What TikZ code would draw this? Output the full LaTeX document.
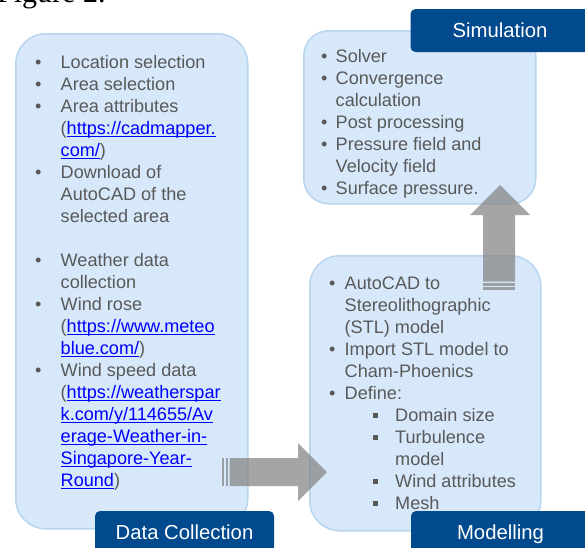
\documentclass[tikz,border=0pt]{standalone}
\usepackage{fontspec}
\setmainfont{Liberation Sans}
\newfontfamily\capfont{Liberation Serif}
\usepackage{tikz}
\usetikzlibrary{positioning}
\definecolor{boxfill}{RGB}{214,232,250}
\definecolor{boxline}{RGB}{184,213,240}
\definecolor{tabblue}{RGB}{0,74,141}
\definecolor{textgray}{RGB}{89,89,89}
\definecolor{linkblue}{RGB}{0,0,255}
\definecolor{arrowgray}{RGB}{135,135,135}
\tikzstyle{infobox}=[draw=boxline,line width=1.5pt,fill=boxfill,anchor=north west]
\tikzstyle{tabbox}=[fill=tabblue,rounded corners=5pt,text=white,font=\fontsize{20.3}{24}\selectfont,minimum width=179pt,minimum height=43pt,text height=14.6pt,text depth=0pt,inner sep=0pt]
\tikzstyle{listtext}=[anchor=base west,inner sep=0pt,text=textgray,font=\fontsize{18.1}{22}\selectfont]
\tikzstyle{blockarrow}=[fill=arrowgray,fill opacity=0.75]
\newcommand{\lnk}[1]{\textcolor{linkblue}{\setbox0\hbox{#1}\rlap{\rule[-3pt]{\wd0}{1.1pt}}#1}}
\newcommand{\bpt}{\textbullet}
\newcommand{\sqpt}{\hspace*{28.5pt}\makebox[22pt][l]{\raisebox{3.5pt}{\rule{5pt}{5pt}}}}

\begin{document}
\begin{tikzpicture}[x=1pt,y=-1pt]
\useasboundingbox (0,0) rectangle (585,547);
\clip (0,0) rectangle (585,547);

\node[anchor=base west,inner sep=0pt,font=\capfont\fontsize{30}{32}\selectfont] (figcap) at (-3,2) {Figure 2.};

% content boxes
\node[infobox,rounded corners=30pt,minimum width=232pt,minimum height=495pt] (collectbox) at (15,33) {};
\node[infobox,rounded corners=25pt,minimum width=232pt,minimum height=173pt] (simbox) at (303,30) {};
\node[infobox,rounded corners=30pt,minimum width=231pt,minimum height=275pt] (modelbox) at (309,255) {};

% striped block arrows
\fill[blockarrow] (222,458) rectangle (224,486);
\fill[blockarrow] (225.5,458) rectangle (228,486);
\fill[blockarrow] (229.5,458) -- (298,458) -- (298,443) -- (327,472) -- (298,501) -- (298,486) -- (229.5,486) -- cycle;

\fill[blockarrow] (483,287) rectangle (515,289.5);
\fill[blockarrow] (483,283) rectangle (515,285.5);
\fill[blockarrow] (483,281.5) -- (483,215) -- (470,215) -- (500,185) -- (530,215) -- (515,215) -- (515,281.5) -- cycle;

% title tabs
\node[tabbox] (collecttab) at (184.5,532.5) {Data Collection};
\node[tabbox] (simtab) at (500,30.5) {Simulation};
\node[tabbox] (modeltab) at (500.5,532.5) {Modelling};

% lists
\node[listtext] (collecttext) at (35,68) {%
\begin{tabular}[t]{@{}p{25.5pt}@{}l@{}}
\bpt & Location selection\\
\bpt & Area selection\\
\bpt & Area attributes\\
& (\lnk{https://cadmapper.}\\
& \lnk{com/})\\
\bpt & Download of\\
& AutoCAD of the\\
& selected area\\
& \\
\bpt & Weather data\\
& collection\\
\bpt & Wind rose\\
& (\lnk{https://www.meteo}\\
& \lnk{blue.com/})\\
\bpt & Wind speed data\\
& (\lnk{https://weatherspar}\\
& \lnk{k.com/y/114655/Av}\\
& \lnk{erage-Weather-in-}\\
& \lnk{Singapore-Year-}\\
& \lnk{Round})
\end{tabular}};

\node[listtext] (simtext) at (321,62) {%
\begin{tabular}[t]{@{}p{14.5pt}@{}l@{}}
\bpt & Solver\\
\bpt & Convergence\\
& calculation\\
\bpt & Post processing\\
\bpt & Pressure field and\\
& Velocity field\\
\bpt & Surface pressure.
\end{tabular}};

\node[listtext] (modeltext) at (329,289) {%
\begin{tabular}[t]{@{}p{15.5pt}@{}l@{}}
\bpt & AutoCAD to\\
& Stereolithographic\\
& (STL) model\\
\bpt & Import STL model to\\
& Cham-Phoenics\\
\bpt & Define:\\
& \sqpt Domain size\\
& \sqpt Turbulence\\
& \hspace*{50.5pt}model\\
& \sqpt Wind attributes\\
& \sqpt Mesh
\end{tabular}};

\end{tikzpicture}
\end{document}
